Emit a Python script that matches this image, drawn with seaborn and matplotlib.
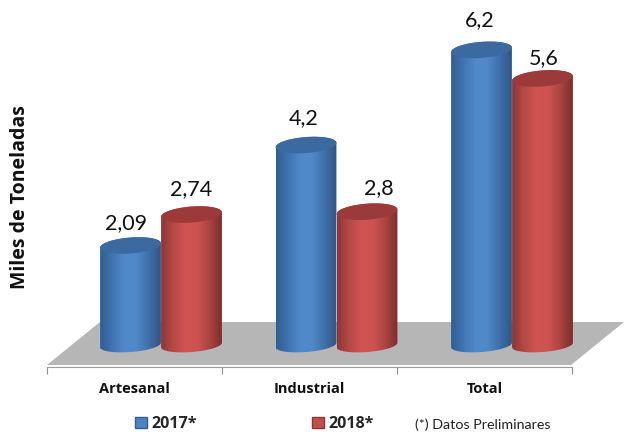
import numpy as np
import pandas as pd
import seaborn as sns
import matplotlib.pyplot as plt
from matplotlib.patches import Polygon, Patch
from matplotlib.colors import LinearSegmentedColormap
from matplotlib.transforms import IdentityTransform

categorias = ['Artesanal', 'Industrial', 'Total']
anios = ['2017*', '2018*']
valores_2017 = [2.09, 4.2, 6.2]
valores_2018 = [2.74, 2.8, 5.6]

W, H = 624, 433
AZUL = ['#2f5e93', '#4173b0', '#5289cb', '#5088c8', '#3f70aa', '#2c5688']
ROJO = ['#8f3633', '#b44a47', '#cf5552', '#cc5350', '#aa4441', '#7d2d2b']
TAPA = {'2017*': '#3a6a9f', '2018*': '#9c3a39'}
# label offset from the bar top, in px, set by hand for each label
CORRIDO = {'2,09': (-4, 22), '2,74': (0, 25), '4,2': (-2, 27),
           '2,8': (12, 24), '6,2': (-2, 30), '5,6': (1, 20)}

df = pd.DataFrame({
    'categoria': categorias * 2,
    'anio': [anios[0]] * 3 + [anios[1]] * 3,
    'valor': valores_2017 + valores_2018,
})

sns.set_style('white')
plt.rcParams['font.family'] = ['Lato', 'DejaVu Sans']
NEGRITA = ['Open Sans', 'DejaVu Sans']

fig = plt.figure(figsize=(W / 100, H / 100), dpi=100)
ax = fig.add_axes([0, 0, 1, 1])

sns.barplot(data=df, x='categoria', y='valor', hue='anio', order=categorias,
            hue_order=anios, width=0.695, legend=False, ax=ax)
# the three groups sit 175.5 px apart, first one centred on px 161; zero at px 345
ax.set_xlim((0 - 161) / 175.5, (W - 161) / 175.5)
ax.set_ylim((345 - H) / 47.6, 345 / 47.6)
ax.axis('off')


def px(x, y):
    return x, H - y


# grey floor
piso = [px(47, 365), px(100, 322), px(624, 322), px(571, 365)]
ax.add_patch(Polygon(piso, closed=True, transform=IdentityTransform(),
                     facecolor='#b6b6b6', edgecolor='none', zorder=0))


def arco(cx, cy, a, b, t0, t1, giro=np.radians(4.5)):
    t = np.linspace(t0, t1, 60)
    x = a * np.cos(t)
    y = b * np.sin(t)
    return np.column_stack([cx + x * np.cos(giro) - y * np.sin(giro),
                            cy + x * np.sin(giro) + y * np.cos(giro)])


def cilindro(bar, colores, tapa, z):
    x0, x1 = bar.get_x(), bar.get_x() + bar.get_width()
    alto = bar.get_height()
    (dx0, dy0), (dx1, dy1) = ax.transData.transform([(x0, 0), (x1, alto)])
    cx, a = (dx0 + dx1) / 2, (dx1 - dx0) / 2
    # body: upper half of the top ellipse, then lower half of the base
    borde = np.vstack([arco(cx, dy1, a, 8, 0, np.pi),
                       arco(cx, dy0, a, 7, np.pi, 2 * np.pi)])
    cuerpo = Polygon(borde, closed=True, transform=IdentityTransform(),
                     facecolor='none', edgecolor='none')
    ax.add_patch(cuerpo)
    cmap = LinearSegmentedColormap.from_list('c', colores)
    im = ax.imshow(np.linspace(0, 1, 128).reshape(1, -1), cmap=cmap, aspect='auto',
                   extent=[x0, x1, -1, alto + 1], zorder=z, interpolation='bilinear')
    im.set_clip_path(cuerpo)
    ax.add_patch(Polygon(arco(cx, dy1, a, 8, 0, 2 * np.pi), closed=True,
                         transform=IdentityTransform(), facecolor=tapa,
                         edgecolor='none', zorder=z + 0.1))
    bar.set_visible(False)


barras_2017, barras_2018 = ax.containers
for b in barras_2017:
    cilindro(b, AZUL, TAPA['2017*'], 2)
for b in barras_2018:
    cilindro(b, ROJO, TAPA['2018*'], 3)
ax.set_xlim((0 - 161) / 175.5, (W - 161) / 175.5)
ax.set_ylim((345 - H) / 47.6, 345 / 47.6)

# value labels
for barras, valores in ((barras_2017, valores_2017), (barras_2018, valores_2018)):
    for b, v in zip(barras, valores):
        texto = f'{v:g}'.replace('.', ',')
        dx, dy = CORRIDO[texto]
        ax.annotate(texto, (b.get_x() + b.get_width() / 2, v),
                    xytext=(dx * 0.72, dy * 0.72),
                    textcoords='offset points', ha='center', va='center',
                    fontsize=15.5, color='#111111', zorder=5)

# category axis
eje = fig.add_axes([47 / W, (H - 367) / H, 525 / W, 0.01])
eje.patch.set_alpha(0)
eje.set_xlim(0, 3)
eje.set_yticks([])
eje.set_xticks([0, 1, 2, 3], labels=[])
eje.set_xticks([0.5, 1.5, 2.5], labels=categorias, minor=True, fontweight='bold',
               fontsize=10.5, color='#111111', family=NEGRITA)
eje.tick_params(axis='x', which='major', length=5, width=0.8, color='#8c8c8c',
                bottom=True)
eje.tick_params(axis='x', which='minor', length=0, pad=11, bottom=False)
sns.despine(ax=eje, left=True)
eje.spines['bottom'].set_color('#9a9a9a')

fig.text(20 / W, 1 - 197 / H, 'Miles de Toneladas', rotation=90, ha='center',
         va='center', fontweight='bold', fontsize=14, color='#111111', family=NEGRITA)

# legend
manejadores = [Patch(facecolor='#4f81bd', edgecolor='#2f5e93', label=anios[0]),
               Patch(facecolor='#c0504d', edgecolor='#8f3633', label=anios[1])]
fig.legend(handles=manejadores, ncol=2, frameon=False, loc='center left',
           bbox_to_anchor=(121 / W, 1 - 424 / H), handlelength=0.75, handleheight=0.75,
           handletextpad=0.26, columnspacing=7.2,
           prop={'weight': 'bold', 'size': 11.5, 'family': NEGRITA})
fig.text(415 / W, 1 - 425 / H, '(*) Datos Preliminares', ha='left', va='center',
         fontsize=10.3, color='#222222')

fig.savefig('out.png', dpi=100)
